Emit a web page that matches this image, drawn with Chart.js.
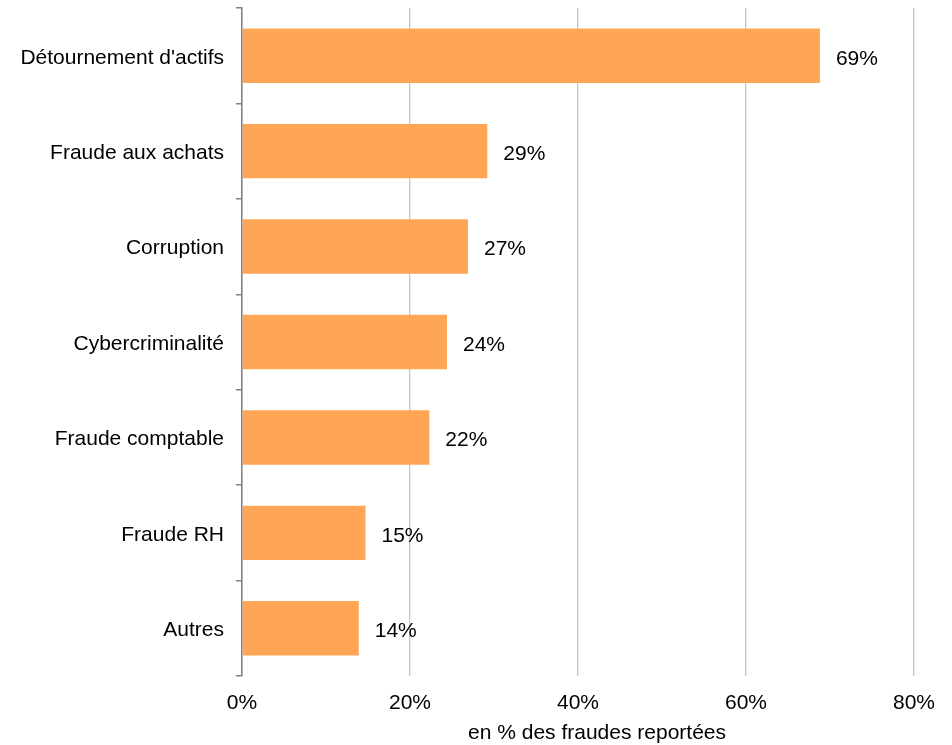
<!DOCTYPE html>
<html>
<head>
<meta charset="utf-8">
<script src="https://cdn.jsdelivr.net/npm/chart.js@4/dist/chart.umd.min.js"></script>
<style>
  html, body { margin: 0; padding: 0; background: #fff; }
  #wrap { width: 952px; height: 745px; }
</style>
</head>
<body>
<div id="wrap"><canvas id="fraudChart"></canvas></div>
<script>
// types de fraude (de haut en bas)
var categories = ['Détournement d\'actifs', 'Fraude aux achats', 'Corruption', 'Cybercriminalité', 'Fraude comptable', 'Fraude RH', 'Autres'];
// part des fraudes reportées, en %
var fraudShare = [68.8, 29.2, 26.9, 24.4, 22.3, 14.7, 13.9];
var xTicks = [0, 20, 40, 60, 80];
var xTitle = 'en % des fraudes reportées';

var font = { family: '"Liberation Sans", Arial, sans-serif', size: 21 };

// étiquettes de valeur à droite des barres
var valueLabels = {
    id: 'valueLabels',
    afterDatasetsDraw: function(chart) {
        var c = chart.ctx;
        var meta = chart.getDatasetMeta(0);
        c.save();
        c.font = font.size + 'px ' + font.family;
        c.fillStyle = '#000';
        c.textAlign = 'left';
        c.textBaseline = 'middle';
        meta.data.forEach(function(bar, i) {
            c.fillText(Math.round(fraudShare[i]) + '%', bar.x + 16, bar.y + 3);
        });
        c.restore();
    }
};

// titre de l'axe x, un peu décalé vers la droite comme l'original
var axisTitle = {
    id: 'axisTitle',
    afterDraw: function(chart) {
        var c = chart.ctx;
        var a = chart.chartArea;
        c.save();
        c.font = font.size + 'px ' + font.family;
        c.fillStyle = '#000';
        c.textAlign = 'center';
        c.textBaseline = 'alphabetic';
        c.fillText(xTitle, (a.left + a.right) / 2 + 19, a.bottom + 63);
        c.restore();
    }
};

var ctx = document.getElementById('fraudChart').getContext('2d');
var fraudChart = new Chart(ctx, {
    type: 'bar',
    data: {
        labels: categories,
        datasets: [{
            data: fraudShare,
            backgroundColor: '#FFA556',
            borderWidth: 0,
            barPercentage: 0.57,
            categoryPercentage: 1
        }]
    },
    options: {
        indexAxis: 'y',
        responsive: true,
        maintainAspectRatio: false,
        animation: false,
        layout: { padding: { top: 8, right: 38, left: 0, bottom: 0 } },
        plugins: {
            legend: { display: false },
            tooltip: { enabled: false }
        },
        scales: {
            x: {
                min: 0,
                max: 80,
                afterBuildTicks: function(scale) {
                    scale.ticks = xTicks.map(function(v) { return { value: v }; });
                },
                afterFit: function(scale) {
                    scale.height = 69;
                    scale.paddingLeft = 0;
                    scale.paddingRight = 0;
                },
                grid: {
                    color: '#C6C6C6',
                    lineWidth: 1.3,
                    drawTicks: false
                },
                border: { display: false },
                ticks: {
                    padding: 15,
                    color: '#000',
                    font: font,
                    callback: function(v) { return v + '%'; }
                }
            },
            y: {
                afterFit: function(scale) {
                    scale.width = 242;
                    scale.paddingTop = 0;
                    scale.paddingBottom = 0;
                },
                grid: {
                    offset: true,
                    drawOnChartArea: false,
                    drawTicks: true,
                    tickLength: 6,
                    color: '#808080',
                    lineWidth: 1.5
                },
                border: { display: true, color: '#808080', width: 1.5 },
                ticks: {
                    padding: 12,
                    labelOffset: 2,
                    color: '#000',
                    font: font
                }
            }
        }
    },
    plugins: [valueLabels, axisTitle]
});
</script>
</body>
</html>
